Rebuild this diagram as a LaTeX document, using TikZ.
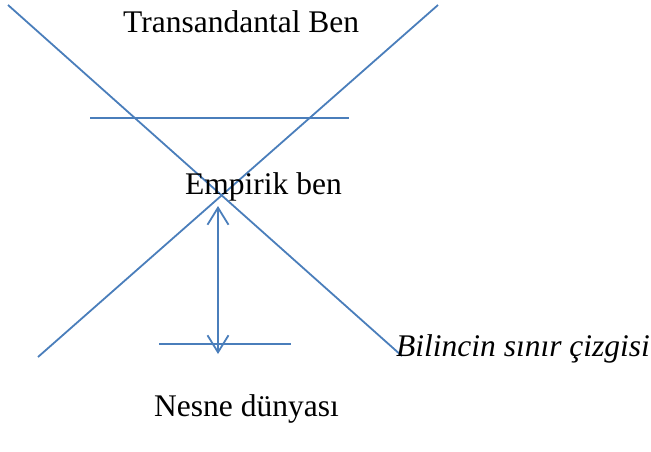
\documentclass[tikz,border=0pt]{standalone}
\usepackage{fontspec}
\setmainfont{Liberation Serif}
\usetikzlibrary{arrows.meta}
\definecolor{lineblue}{RGB}{74,126,187}
\begin{document}
\begin{tikzpicture}[x=1pt, y=-1pt,
  blueline/.style={draw=lineblue, line width=1.8pt},
  txt/.style={inner sep=0pt, anchor=base west, font=\fontsize{31.5}{36}\selectfont}]
\useasboundingbox (0,0) rectangle (651,451);
% end points of the lines
\coordinate (l1a) at (8,5);
\coordinate (l1b) at (402,356);
\coordinate (l2a) at (38,357);
\coordinate (l2b) at (438,5);
\coordinate (h1a) at (90,118);
\coordinate (h1b) at (349,118);
\coordinate (h2a) at (159,344);
\coordinate (h2b) at (291,344);
\coordinate (ar1) at (218,206);
\coordinate (ar2) at (218,354);
\draw[blueline] (l1a) -- (l1b);
\draw[blueline] (l2a) -- (l2b);
\draw[blueline] (h1a) -- (h1b);
\draw[blueline] (h2a) -- (h2b);
\draw[blueline, {Straight Barb[length=17pt,width=21pt]}-{Straight Barb[length=17pt,width=21pt]}] (ar1) -- (ar2);
% texts
\node[txt] (tb) at (123,32) {Transandantal Ben};
\node[txt] (eb) at (185,194) {Empirik ben};
\node[txt, font=\fontsize{31.5}{36}\selectfont\itshape] (bs) at (396,356) {Bilincin sınır çizgisi};
\node[txt] (nd) at (154,416) {Nesne dünyası};
\end{tikzpicture}
\end{document}
